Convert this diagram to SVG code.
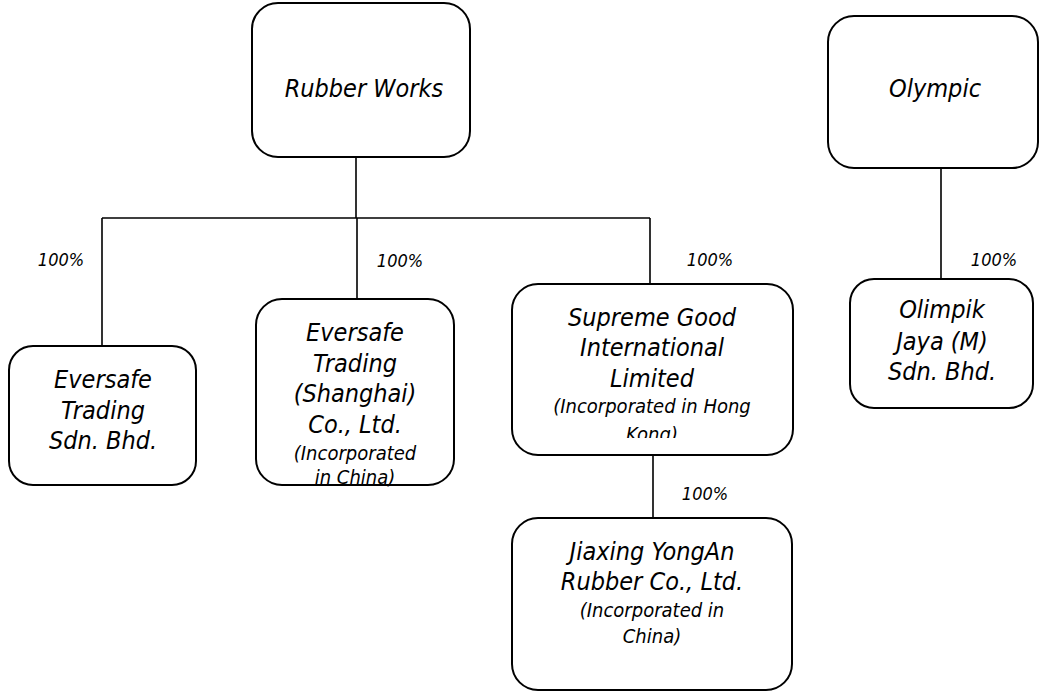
<svg xmlns="http://www.w3.org/2000/svg" width="1042" height="692" viewBox="0 0 1042 692">
<style>
.box{fill:#fff;stroke:#000;stroke-width:2}
.ln{stroke:#000;stroke-width:1.6;fill:none}
text{font-family:"DejaVu Sans Condensed","DejaVu Sans",sans-serif;font-style:italic;fill:#000;text-anchor:middle}
.t{font-size:25px}
.s{font-size:20px}
.p{font-size:18px}
</style>
<defs>
<clipPath id="clipSup"><rect x="512" y="284" width="281" height="154"/></clipPath>
</defs>
<rect width="1042" height="692" fill="#fff"/>
<g id="connectors">
<path class="ln" d="M356 157V218M102 218H650M102 218V346M357 218V299M650 218V284M653 455V518M941 168V279"/>
</g>
<g id="labels">
<text class="p" x="61" y="266">100%</text>
<text class="p" x="400" y="267">100%</text>
<text class="p" x="710" y="266">100%</text>
<text class="p" x="994" y="266">100%</text>
<text class="p" x="705" y="500">100%</text>
</g>
<g id="rubberworks">
<rect class="box" x="252" y="3" width="218" height="154" rx="26"/>
<text class="t" x="364" y="97">Rubber Works</text>
</g>
<g id="olympic">
<rect class="box" x="828" y="16" width="210" height="152" rx="26"/>
<text class="t" x="935" y="97">Olympic</text>
</g>
<g id="eversafe-sdn">
<rect class="box" x="9" y="346" width="187" height="139" rx="24"/>
<text class="t" x="103" y="388">Eversafe</text>
<text class="t" x="103" y="419">Trading</text>
<text class="t" x="103" y="449">Sdn. Bhd.</text>
</g>
<g id="eversafe-shanghai">
<rect class="box" x="256" y="299" width="198" height="186" rx="26"/>
<text class="t" x="355" y="341">Eversafe</text>
<text class="t" x="355" y="372">Trading</text>
<text class="t" x="355" y="402">(Shanghai)</text>
<text class="t" x="355" y="433">Co., Ltd.</text>
<text class="s" x="355" y="460">(Incorporated</text>
<text class="s" x="355" y="484">in China)</text>
</g>
<g id="supreme">
<rect class="box" x="512" y="284" width="281" height="171" rx="26"/>
<text class="t" x="652" y="326">Supreme Good</text>
<text class="t" x="652" y="356">International</text>
<text class="t" x="652" y="387">Limited</text>
<text class="s" x="652" y="413">(Incorporated in Hong</text>
<text class="s" x="652" y="441" clip-path="url(#clipSup)">Kong)</text>
</g>
<g id="jiaxing">
<rect class="box" x="512" y="518" width="280" height="172" rx="26"/>
<text class="t" x="652" y="560">Jiaxing YongAn</text>
<text class="t" x="652" y="590">Rubber Co., Ltd.</text>
<text class="s" x="652" y="617">(Incorporated in</text>
<text class="s" x="652" y="643">China)</text>
</g>
<g id="olimpik">
<rect class="box" x="850" y="279" width="183" height="129" rx="24"/>
<text class="t" x="942" y="318">Olimpik</text>
<text class="t" x="942" y="350">Jaya (M)</text>
<text class="t" x="942" y="380">Sdn. Bhd.</text>
</g>
</svg>
